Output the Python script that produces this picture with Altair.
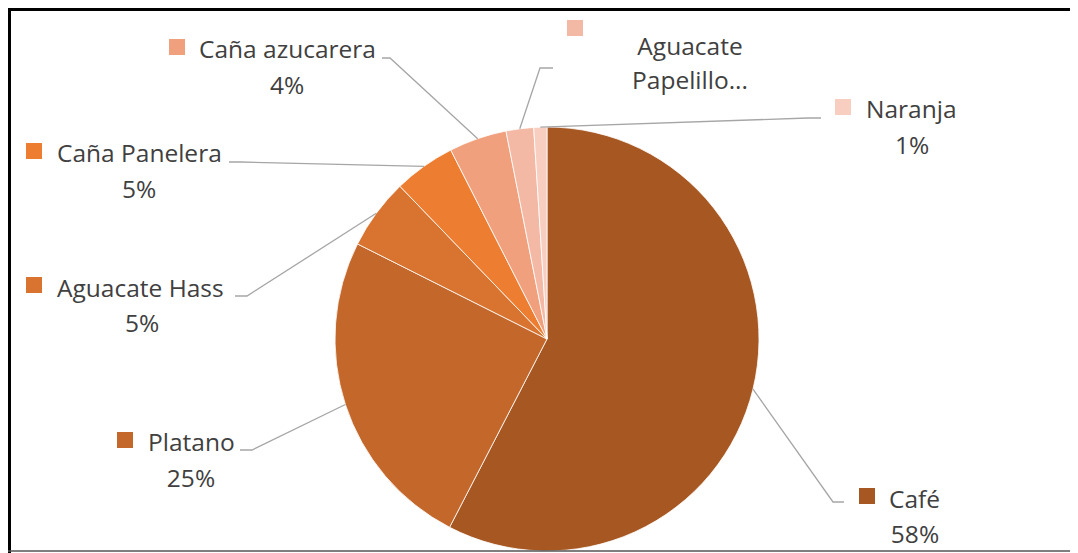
import math
import altair as alt
import pandas as pd

# ---------------- data ----------------
categories = ["Café", "Platano", "Aguacate Hass", "Caña Panelera",
              "Caña azucarera", "Aguacate Papelillo", "Naranja"]
values = [57.6, 24.8, 5.4, 4.7, 4.4, 2.1, 1.0]
colors = ["#A65722", "#C4672B", "#D87430", "#ED7D31",
          "#F0A07C", "#F4B9A4", "#F8CEC1"]

# ---------------- layout (page pixels) ----------------
W, H = 1062, 545
CX, CY, R = 547, 339, 212
FONT = "Open Sans"
FS = 24.5
TXT = "#404040"

# legend-square centres per category
sq_x = [867, 125, 34, 34, 177, 575, 843]
sq_y = [496, 440, 285, 151, 47, 28, 107]
# category-name text (left aligned) : x, baseline
name_x = [889, 148, 57, 57, 199, None, 866]
name_y = [508, 451, 297, 162, 58, None, 118]
# percentage text (centred) : x, baseline
pct_x = [915, 191, 142, 139, 287, None, 912]
pct_y = [543, 487, 332, 198, 94, None, 154]
# leader line elbow and end points
elb = [(833, 502), (252, 450), (247, 296), (241, 162), (390, 58), (540, 68), (808, 118)]
end = [(844, 502), (240, 450), (235, 296), (229, 162), (382, 58), (553, 68), (821, 118)]
# wrapped (truncated) label of the small slice
wrap_cat = "Aguacate Papelillo"
wrap_lines = ["Aguacate", "Papelillo..."]
wrap_x = 690
wrap_y = [55, 89]

# ---------------- tables ----------------
pie_df = pd.DataFrame({"cat": categories, "value": values, "idx": range(len(values))})

total = sum(values)
line_rows = []
cum = 0.0
for i, (c, v) in enumerate(zip(categories, values)):
    frac = (cum + v / 2) / total
    cum += v
    a = 2 * math.pi * frac
    rx = CX + R * math.sin(a)
    ry = CY - R * math.cos(a)
    line_rows.append({"cat": c, "pt": 0, "x": rx, "y": ry})
    line_rows.append({"cat": c, "pt": 1, "x": elb[i][0], "y": elb[i][1]})
    line_rows.append({"cat": c, "pt": 2, "x": end[i][0], "y": end[i][1]})
line_df = pd.DataFrame(line_rows)

sq_df = pd.DataFrame({"cat": categories, "x": sq_x, "y": sq_y})

name_rows = [{"cat": c, "x": x, "y": y, "t": c}
             for c, x, y in zip(categories, name_x, name_y) if x is not None]
name_df = pd.DataFrame(name_rows)

pct_rows = [{"cat": c, "x": x, "y": y, "t": f"{round(v)}%"}
            for c, v, x, y in zip(categories, values, pct_x, pct_y) if x is not None]
pct_rows += [{"cat": wrap_cat, "x": wrap_x, "y": y, "t": t}
             for t, y in zip(wrap_lines, wrap_y)]
pct_df = pd.DataFrame(pct_rows)

# ---------------- chart ----------------
xs = alt.Scale(domain=[8, 8 + W], nice=False, zero=False)
ys = alt.Scale(domain=[8, 8 + H], nice=False, zero=False, reverse=True)
cscale = alt.Scale(domain=categories, range=colors)

X = alt.X("x:Q", scale=xs, axis=None)
Y = alt.Y("y:Q", scale=ys, axis=None)

pie = alt.Chart(pie_df).mark_arc(radius=R, stroke="white", strokeWidth=0.8).encode(
    theta=alt.Theta("value:Q", stack=True),
    order=alt.Order("idx:Q"),
    color=alt.Color("cat:N", scale=cscale, legend=None),
    x=alt.value(CX - 8),
    y=alt.value(CY - 8),
)

lines = alt.Chart(line_df).mark_line(color="#A6A6A6", strokeWidth=1.3).encode(
    x=X, y=Y, detail="cat:N", order="pt:Q"
)

squares = alt.Chart(sq_df).mark_square(size=256, opacity=1).encode(
    x=X, y=Y, color=alt.Color("cat:N", scale=cscale, legend=None)
)

names = alt.Chart(name_df).mark_text(
    font=FONT, fontSize=FS, color=TXT, align="left", baseline="alphabetic"
).encode(x=X, y=Y, text="t:N")

pcts = alt.Chart(pct_df).mark_text(
    font=FONT, fontSize=FS, color=TXT, align="center", baseline="alphabetic"
).encode(x=X, y=Y, text="t:N")

one = pd.DataFrame({"a": [0]})
top_border = alt.Chart(one).mark_rule(color="black", strokeWidth=3).encode(
    x=alt.value(0), x2=alt.value(W), y=alt.value(1.5))
left_border = alt.Chart(one).mark_rule(color="black", strokeWidth=3).encode(
    x=alt.value(1.5), y=alt.value(0), y2=alt.value(H))
bottom_border = alt.Chart(one).mark_rule(color="#555555", strokeWidth=1.5).encode(
    x=alt.value(0), x2=alt.value(W), y=alt.value(551 - 8))

chart = alt.layer(
    pie, lines, squares, names, pcts, top_border, left_border, bottom_border
).properties(
    width=W, height=H, padding=0, autosize="none", background="white"
).configure_view(stroke=None)

chart.save("out.html", embed_options={"renderer": "svg", "actions": False})
